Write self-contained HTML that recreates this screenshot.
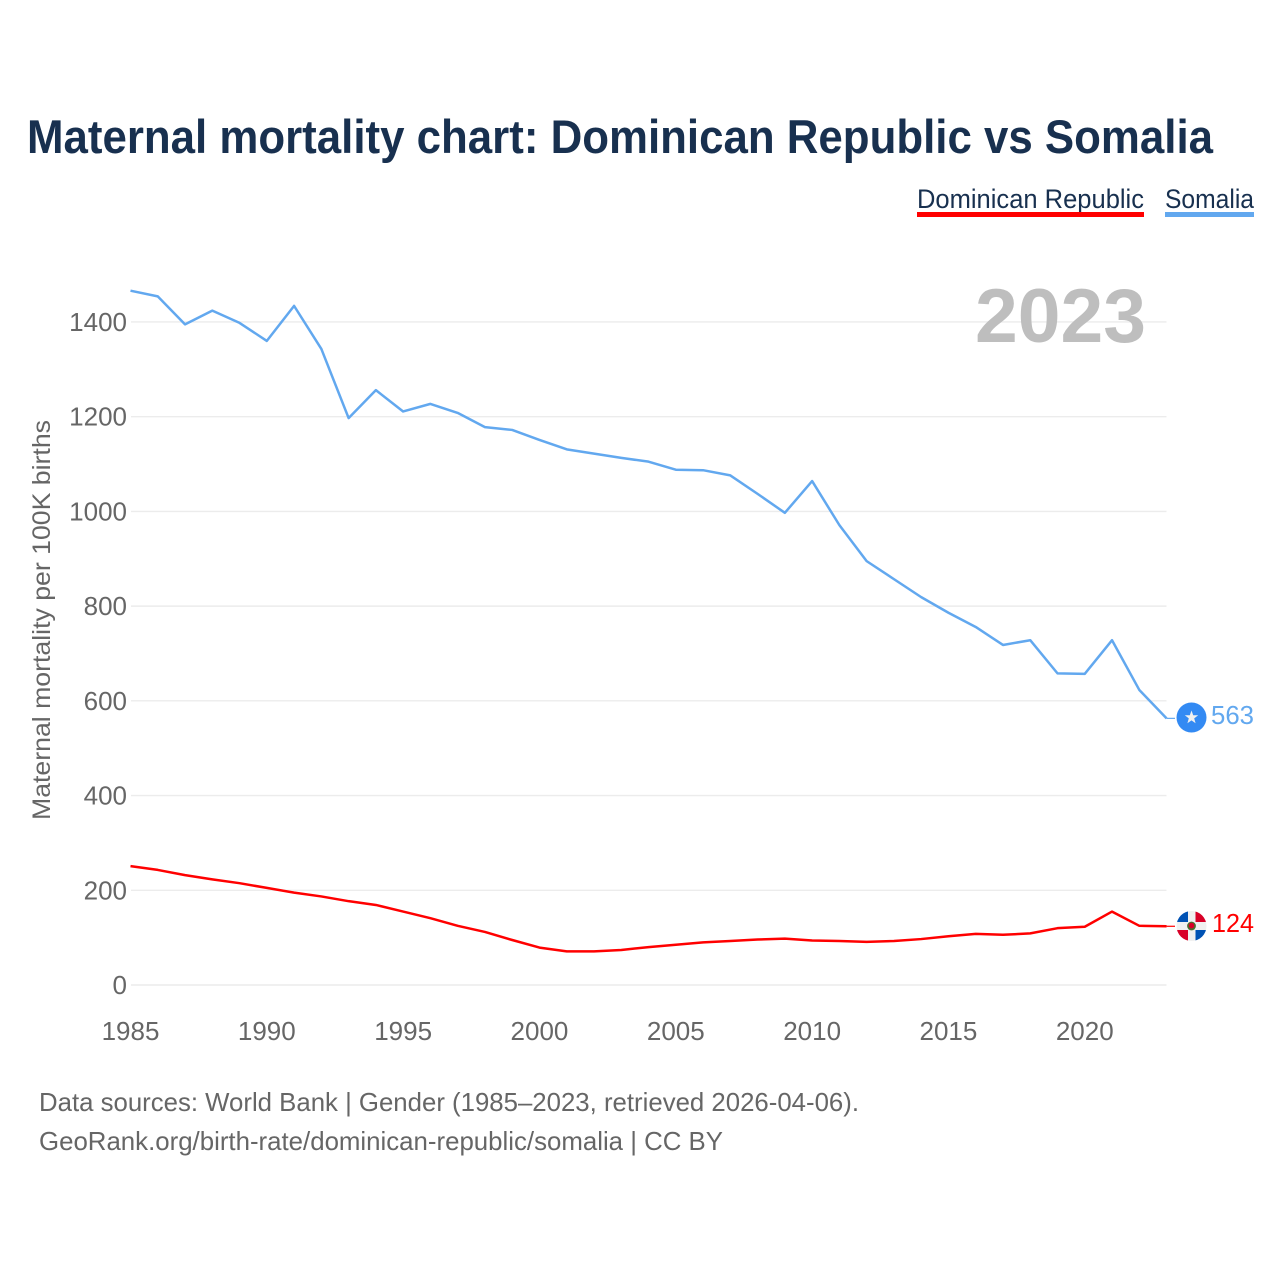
<!DOCTYPE html>
<html lang="en">
<head>
<meta charset="utf-8">
<title>Maternal mortality chart: Dominican Republic vs Somalia</title>
<style>
html,body{margin:0;padding:0;background:#fff;width:1280px;height:1280px;overflow:hidden}
svg{display:block}
text{font-family:"Liberation Sans",sans-serif}
</style>
</head>
<body>
<svg id="chart" xmlns="http://www.w3.org/2000/svg" width="1280" height="1280" viewBox="0 0 1280 1280">
  <rect width="1280" height="1280" fill="#fff"/>
  <text x="27" y="153" font-size="47" font-weight="700" fill="#18304f" textLength="1186" lengthAdjust="spacingAndGlyphs">Maternal mortality chart: Dominican Republic vs Somalia</text>

  <g>
    <g>
      <text x="917" y="208" font-size="27" fill="#18304f" textLength="227" lengthAdjust="spacingAndGlyphs">Dominican Republic</text>
      <rect x="917" y="212" width="227" height="5" fill="#ff0000"/>
    </g>
    <g>
      <text x="1165" y="208" font-size="27" fill="#18304f" textLength="89" lengthAdjust="spacingAndGlyphs">Somalia</text>
      <rect x="1165" y="212" width="89" height="5" fill="#62a8ef"/>
    </g>
  </g>

  <g id="grid"></g>
  <g id="yticks"></g>
  <g id="xticks"></g>

  <text x="975" y="342" font-size="76" font-weight="700" fill="#bebebe" textLength="171" lengthAdjust="spacingAndGlyphs">2023</text>

  <text transform="translate(50,820) rotate(-90)" x="0" y="0" font-size="25" fill="#666666" textLength="400" lengthAdjust="spacingAndGlyphs">Maternal mortality per 100K births</text>

  <g id="series"></g>

  <defs>
    <clipPath id="dr-clip"><circle cx="1191.5" cy="926" r="15"/></clipPath>
  </defs>

  <g>
    <circle cx="1191.5" cy="717.5" r="15" fill="#338af3"/>
    <polygon fill="#f0f0f0" points="1191.5,710.5 1193.2,715.3 1198.2,715.3 1194.2,718.4 1195.6,723.3 1191.5,720.4 1187.4,723.3 1188.8,718.4 1184.8,715.3 1189.8,715.3"/>
  </g>
  <g clip-path="url(#dr-clip)">
    <rect x="1176" y="911" width="31" height="30" fill="#f0f0f0"/>
    <rect x="1176" y="911" width="12" height="11" fill="#0052b4"/>
    <rect x="1195.5" y="911" width="12" height="11" fill="#d80027"/>
    <rect x="1176" y="930" width="12" height="11" fill="#d80027"/>
    <rect x="1195.5" y="930" width="12" height="11" fill="#0052b4"/>
    <circle cx="1191.5" cy="926" r="4.4" fill="#496e2d"/>
    <circle cx="1191.5" cy="925.6" r="2.8" fill="#d80027"/>
  </g>

  <text id="label-somalia" x="1211" y="724" font-size="26" fill="#62a8ef" textLength="43" lengthAdjust="spacingAndGlyphs"></text>
  <text id="label-dr" x="1212" y="932" font-size="26" fill="#ff0000" textLength="42" lengthAdjust="spacingAndGlyphs"></text>

  <text x="39" y="1111" font-size="26" fill="#666666" textLength="820" lengthAdjust="spacingAndGlyphs">Data sources: World Bank | Gender (1985–2023, retrieved 2026-04-06).</text>
  <text x="39" y="1150" font-size="26" fill="#666666" textLength="684" lengthAdjust="spacingAndGlyphs">GeoRank.org/birth-rate/dominican-republic/somalia | CC BY</text>
</svg>

<script>
const years = [1985,1986,1987,1988,1989,1990,1991,1992,1993,1994,1995,1996,1997,1998,1999,2000,2001,2002,2003,2004,2005,2006,2007,2008,2009,2010,2011,2012,2013,2014,2015,2016,2017,2018,2019,2020,2021,2022,2023];
const somalia = [1466,1454,1395,1424,1398,1360,1434,1343,1197,1256,1211,1227,1208,1178,1172,1151,1131,1122,1113,1105,1088,1087,1076,1037,997,1064,971,895,857,819,786,756,718,728,658,657,728,623,563];
const dominicanRepublic = [251,243,232,223,215,205,195,187,177,169,155,141,125,112,95,79,71,71,74,80,85,90,93,96,98,94,93,91,93,97,103,108,106,109,120,123,155,125,124];
const yTickValues = [0,200,400,600,800,1000,1200,1400];
const xTickValues = [1985,1990,1995,2000,2005,2010,2015,2020];

const NS = 'http://www.w3.org/2000/svg';
const xScale = function (year) { return 130.5 + (year - 1985) * 27.265; };
const yScale = function (value) { return 985 - value * 0.4736; };

const gridGroup = document.getElementById('grid');
const yGroup = document.getElementById('yticks');
const xGroup = document.getElementById('xticks');
const seriesGroup = document.getElementById('series');

yTickValues.forEach(function (tick) {
  const line = document.createElementNS(NS, 'line');
  
  
  line.setAttribute('x1', 131);
  line.setAttribute('x2', 1166.5);
  line.setAttribute('y1', yScale(tick));
  line.setAttribute('y2', yScale(tick));
  line.setAttribute('stroke', '#ececec');
  line.setAttribute('stroke-width', 1.4);
  gridGroup.appendChild(line);

  const label = document.createElementNS(NS, 'text');
  
  
  label.setAttribute('x', 127);
  label.setAttribute('y', yScale(tick) + 9);
  label.setAttribute('text-anchor', 'end');
  label.setAttribute('font-size', 26);
  label.setAttribute('fill', '#666666');
  label.textContent = tick;
  yGroup.appendChild(label);
});

xTickValues.forEach(function (tick) {
  const label = document.createElementNS(NS, 'text');
  
  
  label.setAttribute('x', xScale(tick));
  label.setAttribute('y', 1040);
  label.setAttribute('text-anchor', 'middle');
  label.setAttribute('font-size', 26);
  label.setAttribute('fill', '#666666');
  label.textContent = tick;
  xGroup.appendChild(label);
});

function drawSeries(values, color, seriesName) {
  const points = values.map(function (value, i) {
    return xScale(years[i]).toFixed(2) + ',' + yScale(value).toFixed(2);
  }).join(' ');
  const line = document.createElementNS(NS, 'polyline');
  
  
  line.setAttribute('points', points);
  line.setAttribute('fill', 'none');
  line.setAttribute('stroke', color);
  line.setAttribute('stroke-width', 2.5);
  line.setAttribute('stroke-linejoin', 'round');
  seriesGroup.appendChild(line);

  const lastY = yScale(values[values.length - 1]);
  const stub = document.createElementNS(NS, 'line');
  
  
  stub.setAttribute('x1', xScale(years[years.length - 1]));
  stub.setAttribute('x2', 1175);
  stub.setAttribute('y1', lastY);
  stub.setAttribute('y2', lastY);
  stub.setAttribute('stroke', color);
  stub.setAttribute('stroke-width', 1.2);
  seriesGroup.appendChild(stub);
}

drawSeries(somalia, '#62a8ef', 'somalia');
drawSeries(dominicanRepublic, '#ff0000', 'dominican-republic');

document.getElementById('label-somalia').textContent = somalia[somalia.length - 1];
document.getElementById('label-dr').textContent = dominicanRepublic[dominicanRepublic.length - 1];
</script>
</body>
</html>
